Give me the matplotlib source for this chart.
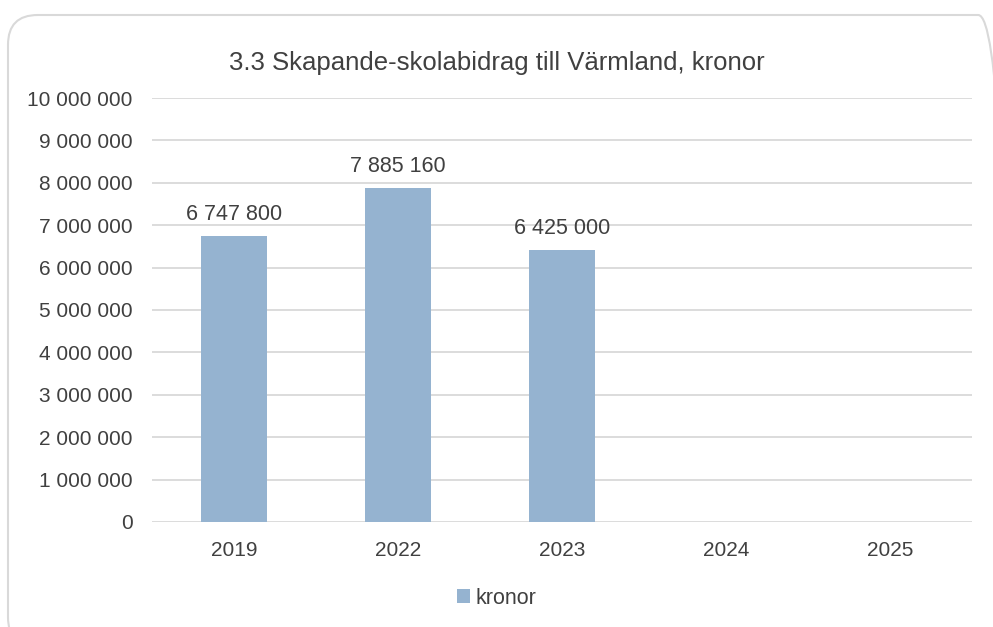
import matplotlib.pyplot as plt
from matplotlib.patches import FancyBboxPatch
from matplotlib.ticker import FuncFormatter
import numpy as np

plt.rcParams['font.family'] = ['Liberation Sans', 'DejaVu Sans']

# data
years = ['2019', '2022', '2023', '2024', '2025']
kronor = [6747800, 7885160, 6425000, np.nan, np.nan]
bar_color = '#95b3d0'
text_color = '#404040'
grid_color = '#d9d9d9'

def sv_num(v):
    return f'{int(v):,}'.replace(',', ' ')

fig = plt.figure(figsize=(9.93, 6.27), dpi=100)
ax = fig.add_axes([0.153, 0.1675, 0.826, 0.6762])

# rounded chart frame, partly running off the canvas like the screenshot
W, H = 993, 627
frame = FancyBboxPatch((8 / W, -20 / H), 1000 / W, 632 / H,
                       boxstyle='round,pad=0,rounding_size=0.03',
                       transform=fig.transFigure, fill=False,
                       edgecolor=grid_color, linewidth=1.5, mutation_aspect=W / H)
fig.patches.append(frame)

x = np.arange(len(years))
bars = ax.bar(x, kronor, width=0.4, color=bar_color, label='kronor', zorder=3)
for xi, v in zip(x, kronor):
    if not np.isnan(v):
        ax.text(xi, v + 250000, sv_num(v), ha='center', va='bottom',
                fontsize=15.5, color=text_color)

ax.set_xlim(-0.5, len(years) - 0.5)
ax.set_ylim(0, 10000000)
ax.set_yticks(np.arange(0, 10000001, 1000000))
ax.yaxis.set_major_formatter(FuncFormatter(lambda v, p: sv_num(v)))
ax.set_xticks(x)
ax.set_xticklabels(years)
ax.tick_params(axis='y', length=0, pad=14, labelsize=15, labelcolor=text_color)
ax.tick_params(axis='x', length=0, pad=14, labelsize=15, labelcolor=text_color)
ax.grid(axis='y', color=grid_color, linewidth=1.3, zorder=0)
for s in ax.spines.values():
    s.set_visible(False)

fig.text(0.5, 0.9, '3.3 Skapande-skolabidrag till Värmland, kronor',
         ha='center', va='center', fontsize=18.5, color=text_color)

ax.legend(loc='center', bbox_to_anchor=(0.5, 0.046), bbox_transform=fig.transFigure,
          frameon=False, fontsize=15.5, handlelength=0.6, handleheight=0.6,
          handletextpad=0.25, labelcolor=text_color)

plt.savefig('out.png', dpi=100)
